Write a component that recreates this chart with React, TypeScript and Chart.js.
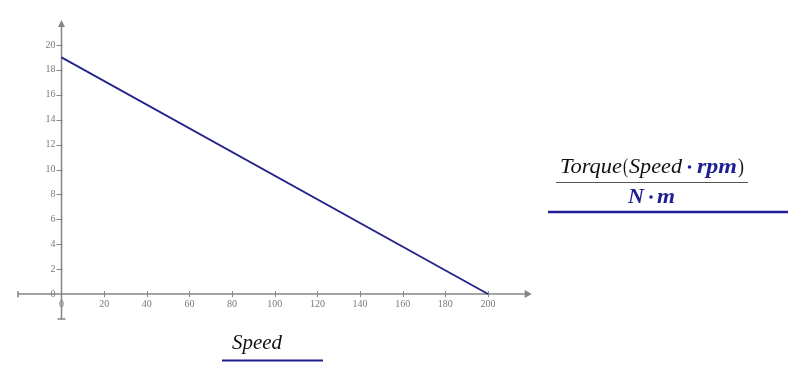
import React, { useEffect, useRef } from "react";
import { Chart, registerables } from "chart.js";

Chart.register(...registerables);

// Data
const speedValues = [0, 200];
const torqueValues = [19, 0];
const xTicks = [0, 20, 40, 60, 80, 100, 120, 140, 160, 180, 200];
const yTicks = [0, 2, 4, 6, 8, 10, 12, 14, 16, 18, 20];
const xLabelText = "Speed";
const yNumerator = ["Torque", "(", "Speed", "\u2022", "rpm", ")"];
const yDenominator = ["N", "\u2022", "m"];

const AXIS = "#858585";
const TICKTXT = "#7a7a7a";
const BLUE = "#1d1f92";
const LINE = "#23238c";

function seg(
  ctx: CanvasRenderingContext2D,
  text: string,
  x0: number,
  x1: number,
  base: number,
  font: string,
  color: string
) {
  ctx.save();
  ctx.font = font;
  ctx.fillStyle = color;
  ctx.textAlign = "left";
  ctx.textBaseline = "alphabetic";
  const w = ctx.measureText(text).width;
  const sx = w > 0 ? (x1 - x0) / w : 1;
  ctx.translate(x0, base);
  ctx.scale(sx, 1);
  ctx.fillText(text, 0, 0);
  ctx.restore();
}

function dot(ctx: CanvasRenderingContext2D, cx: number, cy: number, color: string) {
  ctx.save();
  ctx.fillStyle = color;
  ctx.beginPath();
  ctx.arc(cx, cy, 1.8, 0, Math.PI * 2);
  ctx.fill();
  ctx.restore();
}

const axesPlugin = {
  id: "mathcadAxes",
  beforeDatasetsDraw(chart: any) {
    const ctx: CanvasRenderingContext2D = chart.ctx;
    const xs = chart.scales.x;
    const ys = chart.scales.y;
    const area = chart.chartArea;
    const x0 = xs.getPixelForValue(0);
    const y0 = ys.getPixelForValue(0);
    ctx.save();
    ctx.strokeStyle = AXIS;
    ctx.fillStyle = AXIS;
    ctx.lineWidth = 1.5;
    // x axis
    ctx.beginPath();
    ctx.moveTo(area.left, y0);
    ctx.lineTo(area.right - 4, y0);
    ctx.stroke();
    // left cap
    ctx.beginPath();
    ctx.moveTo(area.left, y0 - 3);
    ctx.lineTo(area.left, y0 + 3.5);
    ctx.stroke();
    // right arrow
    ctx.beginPath();
    ctx.moveTo(area.right, y0);
    ctx.lineTo(area.right - 7, y0 - 4);
    ctx.lineTo(area.right - 7, y0 + 4);
    ctx.closePath();
    ctx.fill();
    // y axis
    ctx.beginPath();
    ctx.moveTo(x0, area.bottom);
    ctx.lineTo(x0, area.top + 4);
    ctx.stroke();
    // bottom cap
    ctx.beginPath();
    ctx.moveTo(x0 - 4, area.bottom);
    ctx.lineTo(x0 + 4, area.bottom);
    ctx.stroke();
    // top arrow
    ctx.beginPath();
    ctx.moveTo(x0, area.top);
    ctx.lineTo(x0 - 3.5, area.top + 7);
    ctx.lineTo(x0 + 3.5, area.top + 7);
    ctx.closePath();
    ctx.fill();

    ctx.lineWidth = 1;
    // x ticks
    ctx.font = "10px 'Liberation Serif'";
    ctx.fillStyle = TICKTXT;
    ctx.textAlign = "center";
    ctx.textBaseline = "middle";
    for (const t of xTicks) {
      const px = Math.round(xs.getPixelForValue(t)) + 0.5;
      if (t !== 0) {
        ctx.beginPath();
        ctx.moveTo(px, y0 - 3);
        ctx.lineTo(px, y0 + 3);
        ctx.stroke();
      }
      ctx.fillText(String(t), xs.getPixelForValue(t), y0 + 10);
    }
    // y ticks
    ctx.textAlign = "right";
    for (const t of yTicks) {
      const py = Math.round(ys.getPixelForValue(t)) + 0.5;
      if (t !== 0) {
        ctx.beginPath();
        ctx.moveTo(x0 - 5, py);
        ctx.lineTo(x0 + 1, py);
        ctx.stroke();
      }
      ctx.fillText(String(t), x0 - 6, ys.getPixelForValue(t));
    }
    ctx.restore();
  },
  afterDraw(chart: any) {
    const ctx: CanvasRenderingContext2D = chart.ctx;
    const it = "italic 20px 'Liberation Serif'";
    const bi = "italic bold 20px 'Liberation Serif'";
    const up = "20px 'Liberation Serif'";
    // x axis expression
    seg(ctx, xLabelText, 232, 282, 349, it, "#111");
    ctx.save();
    ctx.strokeStyle = BLUE;
    ctx.lineWidth = 2;
    ctx.beginPath();
    ctx.moveTo(222, 360.5);
    ctx.lineTo(323, 360.5);
    ctx.stroke();
    ctx.restore();

    // y axis expression numerator
    seg(ctx, yNumerator[0], 560, 622, 173, it, "#111");
    seg(ctx, yNumerator[1], 623, 628, 173, up, "#111");
    seg(ctx, yNumerator[2], 629, 682, 173, it, "#111");
    dot(ctx, 689.5, 167, BLUE);
    seg(ctx, yNumerator[4], 697, 737, 173, bi, BLUE);
    seg(ctx, yNumerator[5], 738, 744, 173, up, "#111");
    // fraction bar
    ctx.save();
    ctx.strokeStyle = "#555";
    ctx.lineWidth = 1;
    ctx.beginPath();
    ctx.moveTo(556, 182.5);
    ctx.lineTo(748, 182.5);
    ctx.stroke();
    ctx.restore();
    // denominator
    seg(ctx, yDenominator[0], 628, 644, 203, bi, BLUE);
    dot(ctx, 651, 197, BLUE);
    seg(ctx, yDenominator[2], 657, 675, 203, bi, BLUE);
    // underline
    ctx.save();
    ctx.strokeStyle = BLUE;
    ctx.lineWidth = 2.5;
    ctx.beginPath();
    ctx.moveTo(548, 212);
    ctx.lineTo(788, 212);
    ctx.stroke();
    ctx.restore();
  },
};

export default function App() {
  const ref = useRef<HTMLCanvasElement | null>(null);
  useEffect(() => {
    if (!ref.current) return;
    const chart = new Chart(ref.current, {
      type: "scatter",
      data: {
        datasets: [
          {
            data: speedValues.map((s, i) => ({ x: s, y: torqueValues[i] })),
            showLine: true,
            borderColor: LINE,
            borderWidth: 1.8,
            pointRadius: 0,
            fill: false,
          },
        ],
      },
      options: {
        animation: false,
        responsive: false,
        devicePixelRatio: 1,
        layout: { padding: { left: 18, right: 268.3, top: 20, bottom: 58 } },
        plugins: { legend: { display: false }, tooltip: { enabled: false } },
        scales: {
          x: { type: "linear", min: -20.4, max: 220.5, display: false },
          y: { type: "linear", min: -2, max: 22, display: false },
        },
      },
      plugins: [axesPlugin],
    });
    return () => chart.destroy();
  }, []);
  return (
    <div style={{ position: "fixed", left: 0, top: 0, width: 800, height: 377, background: "#fff" }}>
      <canvas ref={ref} width={800} height={377} style={{ width: 800, height: 377, display: "block" }} />
    </div>
  );
}
